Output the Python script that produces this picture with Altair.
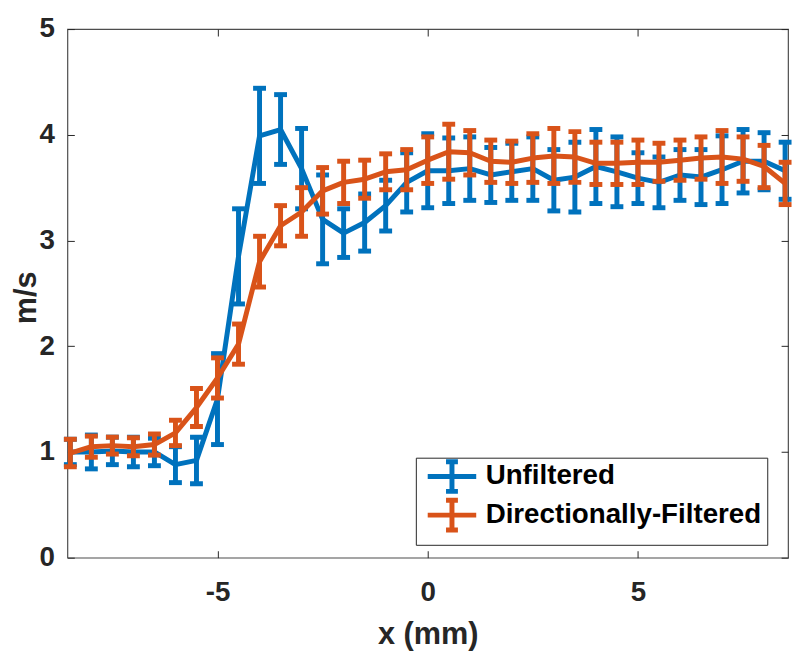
import altair as alt
import pandas as pd

# ---------------- data ----------------
x_mm = [-8.5, -8.0, -7.5, -7.0, -6.5, -6.0, -5.5, -5.0, -4.5, -4.0, -3.5, -3.0,
        -2.5, -2.0, -1.5, -1.0, -0.5, 0.0, 0.5, 1.0, 1.5, 2.0, 2.5, 3.0,
        3.5, 4.0, 4.5, 5.0, 5.5, 6.0, 6.5, 7.0, 7.5, 8.0, 8.5]

unfiltered_mean = [1.00, 1.00, 1.01, 1.00, 1.00, 0.88, 0.92, 1.50, 2.85, 3.99, 4.05, 3.68,
                   3.20, 3.07, 3.17, 3.33, 3.55, 3.66, 3.66, 3.68, 3.62, 3.65, 3.68, 3.57,
                   3.60, 3.70, 3.65, 3.59, 3.55, 3.62, 3.60, 3.67, 3.75, 3.75, 3.66]
unfiltered_err = [0.12, 0.16, 0.13, 0.14, 0.13, 0.17, 0.22, 0.43, 0.45, 0.45, 0.33, 0.38,
                  0.42, 0.23, 0.27, 0.24, 0.28, 0.35, 0.31, 0.30, 0.26, 0.27, 0.30, 0.29,
                  0.33, 0.35, 0.33, 0.24, 0.24, 0.24, 0.26, 0.32, 0.30, 0.27, 0.27]

directional_mean = [0.99, 1.05, 1.06, 1.05, 1.07, 1.18, 1.42, 1.70, 2.02, 2.80, 3.14, 3.27,
                    3.47, 3.55, 3.58, 3.65, 3.67, 3.76, 3.84, 3.83, 3.75, 3.74, 3.78, 3.80,
                    3.79, 3.73, 3.73, 3.74, 3.74, 3.76, 3.78, 3.79, 3.77, 3.70, 3.54]
directional_err = [0.13, 0.10, 0.08, 0.085, 0.10, 0.12, 0.18, 0.19, 0.19, 0.24, 0.19, 0.23,
                   0.22, 0.20, 0.18, 0.17, 0.19, 0.22, 0.26, 0.21, 0.20, 0.20, 0.23, 0.26,
                   0.24, 0.20, 0.20, 0.21, 0.18, 0.19, 0.20, 0.25, 0.21, 0.20, 0.20]

series_names = ["Unfiltered", "Directionally-Filtered"]
series_colors = ["#0072BD", "#D95319"]
x_ticks = [-5, 0, 5]
y_ticks = [0, 1, 2, 3, 4, 5]
x_domain = [-8.57, 8.57]
y_domain = [0, 5]

rows = []
for name, means, errs in [(series_names[0], unfiltered_mean, unfiltered_err),
                          (series_names[1], directional_mean, directional_err)]:
    for xv, m, e in zip(x_mm, means, errs):
        rows.append({"series": name, "x": xv, "y": m, "lo": m - e, "hi": m + e})
df = pd.DataFrame(rows)

# ---------------- styling ----------------
W = 728
TOP = 18
H = 560 - 8 - TOP
FONT = "Liberation Sans"
AX = "#262626"
LW = 5

legend_def = alt.Legend(
    title=None, orient="none", legendX=352, legendY=459 - 8 - TOP, direction="vertical",
    fillColor="white", strokeColor="#262626", padding=5, rowPadding=-14,
    symbolType="M-2.45,0H2.45M0,-1.5V1.5M-0.6,-1.5H0.6M-0.6,1.5H0.6",
    symbolSize=400, symbolStrokeWidth=LW, symbolOffset=17.5, labelOffset=20,
    labelFont=FONT, labelFontSize=28, labelFontWeight="bold", labelColor="black",
    labelLimit=500,
)
color_enc = alt.Color("series:N",
                      scale=alt.Scale(domain=series_names, range=series_colors),
                      legend=legend_def)

xs = alt.Scale(domain=x_domain, nice=False, zero=False)
ys = alt.Scale(domain=y_domain, nice=False, zero=False)

main_x = alt.Axis(values=x_ticks, ticks=False, tickSize=0, domain=False, grid=False,
                  labelPadding=21, labelFont=FONT, labelFontSize=28, labelFontWeight="bold",
                  labelColor=AX, labelExpr="datum.value + ''",
                  title="x (mm)", titleFont=FONT, titleFontSize=31, titleFontWeight="bold",
                  titleColor=AX, titleY=63)
main_y = alt.Axis(values=y_ticks, ticks=False, tickSize=0, domain=False, grid=False,
                  labelPadding=13, labelFont=FONT, labelFontSize=28, labelFontWeight="bold",
                  labelColor=AX,
                  title="m/s", titleFont=FONT, titleFontSize=31, titleFontWeight="bold",
                  titleColor=AX, titleX=-25, titleY=297 - 8 - TOP)

in_bottom = alt.Axis(orient="top", offset=-H, values=x_ticks, labels=False, domain=False,
                     grid=False, ticks=True, tickSize=7, tickColor=AX, title=None)
in_top = alt.Axis(orient="bottom", offset=-H, values=x_ticks, labels=False, domain=False,
                  grid=False, ticks=True, tickSize=7, tickColor=AX, title=None)
in_left = alt.Axis(orient="right", offset=-W, values=y_ticks, labels=False, domain=False,
                   grid=False, ticks=True, tickSize=7, tickColor=AX, title=None)
in_right = alt.Axis(orient="left", offset=-W, values=y_ticks, labels=False, domain=False,
                    grid=False, ticks=True, tickSize=7, tickColor=AX, title=None)


def series_layers(name, axes):
    base = alt.Chart(df).transform_filter(alt.datum.series == name)
    ax_line, ax_rule, ax_cap = axes
    line = base.mark_line(strokeWidth=LW, strokeJoin="round", opacity=1).encode(
        x=alt.X("x:Q", scale=xs, axis=ax_line[0]),
        y=alt.Y("y:Q", scale=ys, axis=ax_line[1]),
        color=color_enc,
    )
    rule = base.mark_rule(strokeWidth=LW, opacity=1).encode(
        x=alt.X("x:Q", scale=xs, axis=ax_rule[0]),
        y=alt.Y("lo:Q", scale=ys, axis=ax_rule[1]),
        y2="hi:Q",
        color=color_enc,
    )
    cap_top = base.mark_tick(orient="horizontal", size=13, thickness=LW, opacity=1).encode(
        x=alt.X("x:Q", scale=xs, axis=ax_cap[0]),
        y=alt.Y("hi:Q", scale=ys, axis=ax_cap[1]),
        color=color_enc,
    )
    cap_bot = base.mark_tick(orient="horizontal", size=13, thickness=LW, opacity=1).encode(
        x=alt.X("x:Q", scale=xs, axis=None),
        y=alt.Y("lo:Q", scale=ys, axis=None),
        color=color_enc,
    )
    return [line, rule, cap_top, cap_bot]


layers = (series_layers(series_names[0], [(main_x, main_y), (in_bottom, in_left), (in_top, in_right)])
          + series_layers(series_names[1], [(None, None), (None, None), (None, None)]))

chart = alt.layer(*layers).resolve_axis(x="independent", y="independent").properties(
    width=W, height=H,
    autosize=alt.AutoSizeParams(type="none"),
    padding={"left": 60, "top": TOP, "right": 4, "bottom": 93},
    background="white",
).configure_view(stroke="#4d4d4d", strokeWidth=1.2).configure_axis(grid=False)

chart.save("out.html", embed_options={"renderer": "svg", "actions": False})
